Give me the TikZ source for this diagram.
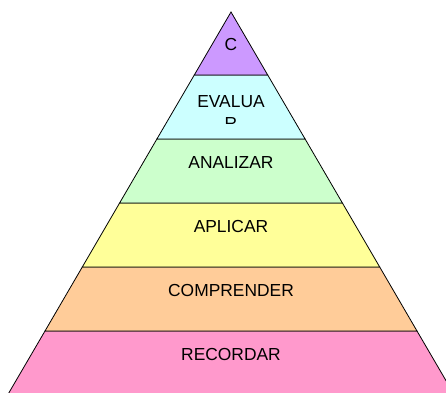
\documentclass[tikz,border=0pt]{standalone}
\usepackage{fontspec}
\setmainfont{Liberation Sans}
\definecolor{cpurple}{HTML}{CC99FF}
\definecolor{ccyan}{HTML}{CCFFFF}
\definecolor{cgreen}{HTML}{CCFFCC}
\definecolor{cyellow}{HTML}{FFFF99}
\definecolor{corange}{HTML}{FFCC99}
\definecolor{cpink}{HTML}{FF99CC}
\begin{document}
\begin{tikzpicture}[x=1pt,y=-1pt,
  layer/.style={draw=black,line width=0.8pt,line join=miter},
  lbl/.style={anchor=base,inner sep=0pt,font=\fontsize{17.4}{21.7}\selectfont}]
\useasboundingbox (0,0) rectangle (446,392);
\clip (0,0) rectangle (446,392);
% layers
\fill[cpink]   (7.6,395) -- (45.0,331) -- (417.0,331) -- (454.4,395) -- cycle;
\draw[layer]   (7.6,395) -- (45.0,331) -- (417.0,331) -- (454.4,395);
\filldraw[layer,fill=corange] (45.0,331) -- (82.3,267) -- (379.7,267) -- (417.0,331) -- cycle;
\filldraw[layer,fill=cyellow] (82.3,267) -- (119.6,203) -- (342.4,203) -- (379.7,267) -- cycle;
\filldraw[layer,fill=cgreen]  (119.6,203) -- (156.9,139) -- (305.1,139) -- (342.4,203) -- cycle;
\filldraw[layer,fill=ccyan]   (156.9,139) -- (194.3,75) -- (267.7,75) -- (305.1,139) -- cycle;
\filldraw[layer,fill=cpurple] (194.3,75) -- (231,12) -- (267.7,75) -- cycle;
% labels
\node[lbl] (c) at (231,50) {C};
\node[lbl] (ev) at (231,107.3) {EVALUA};
\begin{scope}
\clip (190,110) rectangle (272,123.5);
\node[lbl] (evr) at (231,129) {R};
\end{scope}
\node[lbl] (an) at (231,168.5) {ANALIZAR};
\node[lbl] (ap) at (231,232.5) {APLICAR};
\node[lbl] (co) at (231,296.5) {COMPRENDER};
\node[lbl] (re) at (231,360.3) {RECORDAR};
\end{tikzpicture}
\end{document}
